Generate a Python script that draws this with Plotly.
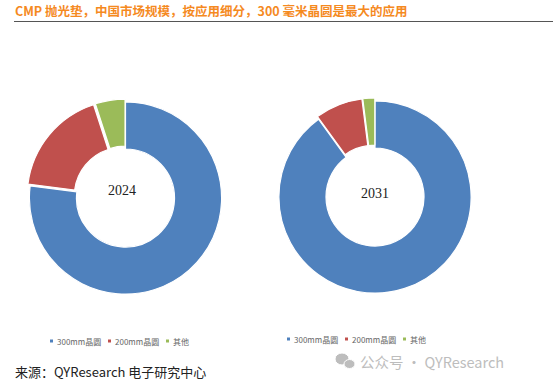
import plotly.graph_objects as go

W, H = 553, 383
labels = ["300mm晶圆", "200mm晶圆", "其他"]
values_2024 = [77.0, 18.0, 5.0]
values_2031 = [90.0, 8.0, 2.0]
colors = ["#4F81BD", "#C0504D", "#9BBB59"]
title = "CMP 抛光垫，中国市场规模，按应用细分，300 毫米晶圆是最大的应用"
source = "来源：QYResearch 电子研究中心"
watermark = "公众号 · QYResearch"
FONT = "Noto Sans CJK SC"

def dom(cx, cy, r):
    return dict(x=[(cx - r) / W, (cx + r) / W], y=[1 - (cy + r) / H, 1 - (cy - r) / H])

fig = go.Figure()
for vals, d in [(values_2024, dom(125.5, 198, 99)), (values_2031, dom(375, 197, 99))]:
    fig.add_trace(go.Pie(labels=labels, values=vals, hole=0.51, sort=False, direction="clockwise",
                         rotation=0, domain=d, textinfo="none", showlegend=False,
                         pull=[0, 0.03, 0.03],
                         marker=dict(colors=colors, line=dict(color="white", width=1.2))))

def txt(x, y, t, size, color, anchor="left", family=FONT, **kw):
    fig.add_annotation(x=x / W, y=1 - y / H, xref="paper", yref="paper", text=t, showarrow=False,
                       xanchor=anchor, yanchor="middle", font=dict(size=size, color=color, family=family),
                       borderpad=0, **kw)

txt(14, 10, "<b>" + title + "</b>", 12.5, "#F58A1F")
txt(121.7, 191, "2024", 14, "#222222", "center", "Liberation Serif")
txt(375, 193, "2031", 14, "#222222", "center", "Liberation Serif")

for xs, y in [((50, 108, 166), 341), ((287, 345, 403), 339)]:
    for x, lab, c in zip(xs, labels, colors):
        fig.add_shape(type="rect", xref="paper", yref="paper", x0=x / W, x1=(x + 3) / W,
                      y0=1 - (y + 1.5) / H, y1=1 - (y - 1.5) / H, fillcolor=c, line_width=0)
        txt(x + 6, y, lab, 8, "#666666")

txt(14, 371, source, 13, "#222222")
txt(359, 361, watermark, 14.5, "#BDBDBD")

# WeChat-style watermark glyph
for (cx, cy, rx, ry) in [(342, 359, 7, 6), (349.5, 364, 5.5, 4.5)]:
    fig.add_shape(type="circle", xref="paper", yref="paper", x0=(cx - rx) / W, x1=(cx + rx) / W,
                  y0=1 - (cy + ry) / H, y1=1 - (cy - ry) / H, fillcolor="#BDBDBD",
                  line=dict(color="white", width=1))

fig.add_shape(type="line", xref="paper", yref="paper", x0=14 / W, x1=1, y0=1 - 21.5 / H, y1=1 - 21.5 / H,
              line=dict(color="#555555", width=1))
fig.update_layout(width=W, height=H, margin=dict(l=0, r=0, t=0, b=0), paper_bgcolor="white", plot_bgcolor="white")
fig.write_html("out.html", config={"displayModeBar": False}, post_script="document.body.style.margin='0';")
